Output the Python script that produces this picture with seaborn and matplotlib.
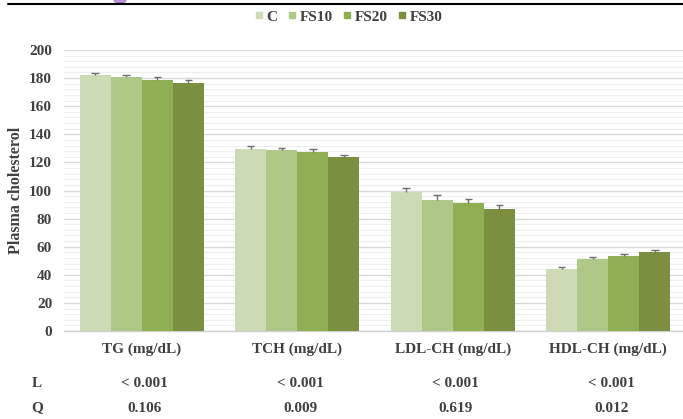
import numpy as np
import pandas as pd
import matplotlib
matplotlib.use("Agg")
import matplotlib.pyplot as plt
from matplotlib.patches import Ellipse
from matplotlib.lines import Line2D
from matplotlib.ticker import MultipleLocator
import seaborn as sns

# Lipid panel: means and SE per diet group
categories = ["TG (mg/dL)", "TCH (mg/dL)", "LDL-CH (mg/dL)", "HDL-CH (mg/dL)"]
groups = ["C", "FS10", "FS20", "FS30"]
values_C = [182.0, 129.5, 99.0, 44.0]
values_FS10 = [180.5, 128.5, 93.0, 51.0]
values_FS20 = [179.0, 127.5, 91.0, 53.5]
values_FS30 = [176.5, 123.5, 87.0, 56.0]
err_C = [1.9, 1.9, 2.8, 1.4]
err_FS10 = [1.9, 1.9, 3.5, 1.4]
err_FS20 = [1.9, 1.9, 2.8, 1.4]
err_FS30 = [1.9, 1.9, 2.8, 1.6]
p_linear = ["< 0.001", "< 0.001", "< 0.001", "< 0.001"]
p_quadratic = ["0.106", "0.009", "0.619", "0.012"]

colors = ["#CCDBB6", "#AFC787", "#90AF55", "#7A8F40"]
text_color = "#404040"
fs = 11

sns.set_theme(style="white")
plt.rcParams["font.family"] = ["Liberation Serif", "DejaVu Serif"]
plt.rcParams["font.weight"] = "bold"

series = [values_C, values_FS10, values_FS20, values_FS30]
errors = [err_C, err_FS10, err_FS20, err_FS30]
df = pd.DataFrame({
    "category": np.repeat([categories], len(groups), axis=0).ravel(),
    "group": np.repeat(groups, len(categories)),
    "value": np.concatenate(series),
})

W, H = 683, 419
fig = plt.figure(figsize=(W / 100, H / 100), dpi=100)
ax = fig.add_axes([64 / W, 1 - 331 / H, (W - 64) / W, (331 - 50) / H])

sns.barplot(data=df, x="category", y="value", hue="group", order=categories,
            hue_order=groups, palette=colors, width=0.8, gap=0, errorbar=None,
            saturation=1, legend=False, linewidth=0, ax=ax, zorder=3)

# one-sided (upper) error bars with a cap
cap_half = 0.024
for cont, err in zip(ax.containers, errors):
    xs = np.array([b.get_x() + b.get_width() / 2 for b in cont])
    hs = np.array([b.get_height() for b in cont])
    tops = hs + np.array(err)
    ax.vlines(xs, hs, tops, color="#6E6E6E", linewidth=1.0, zorder=4)
    ax.hlines(tops, xs - cap_half, xs + cap_half, color="#6E6E6E",
              linewidth=1.0, zorder=4)

ax.set_ylim(0, 200)
ax.set_xlim(-0.5, -0.5 + (W - 64) / 155.5)
ax.yaxis.set_major_locator(MultipleLocator(20))
ax.yaxis.set_minor_locator(MultipleLocator(4))
ax.grid(axis="y", which="major", color="#D9D9D9", linewidth=1.0, zorder=0)
ax.grid(axis="y", which="minor", color="#EEEEEE", linewidth=0.8, zorder=0)
ax.set_axisbelow(True)
for s in ["top", "right", "left"]:
    ax.spines[s].set_visible(False)
ax.spines["bottom"].set_color("#D0D0D0")
ax.spines["bottom"].set_linewidth(1.0)

ax.tick_params(axis="y", which="both", length=0, pad=8.5, labelsize=fs,
               labelcolor=text_color)
ax.tick_params(axis="x", length=0, pad=8, labelsize=fs, labelcolor=text_color)
for t in ax.get_xticklabels() + ax.get_yticklabels():
    t.set_fontweight("bold")
ax.set_xlabel("")
ax.set_ylabel("")
fig.text(16 / W, 1 - 190 / H, "Plasma cholesterol", rotation=90, ha="center",
         va="center", fontsize=11.5, fontweight="bold", color=text_color)

# trend-test p-value rows below the axis
trans = matplotlib.transforms.blended_transform_factory(ax.transData, fig.transFigure)
fig.text(37 / W, 1 - 383 / H, "L", ha="center", va="center", fontsize=fs,
         fontweight="bold", color=text_color)
fig.text(37 / W, 1 - 408 / H, "Q", ha="center", va="center", fontsize=fs,
         fontweight="bold", color=text_color)
for i, (pl, pq) in enumerate(zip(p_linear, p_quadratic)):
    ax.text(i + 0.02, 1 - 383 / H, pl, transform=trans, ha="center",
            va="center", fontsize=fs, fontweight="bold", color=text_color)
    ax.text(i + 0.02, 1 - 408 / H, pq, transform=trans, ha="center",
            va="center", fontsize=fs, fontweight="bold", color=text_color)

# legend
handles = [Line2D([0], [0], marker="s", linestyle="none", markersize=5,
                  markerfacecolor=c, markeredgecolor=c) for c in colors]
fig.legend(handles, groups, loc="center", bbox_to_anchor=(349 / W, 1 - 17 / H),
           ncol=4, frameon=False, handlelength=0.5, handletextpad=0.25,
           columnspacing=0.7, prop={"family": "Liberation Serif",
                                    "weight": "bold", "size": fs},
           labelcolor=text_color)

# page rule and logo edge at the top
fig.add_artist(Line2D([8 / W, 1], [1 - 4 / H, 1 - 4 / H], color="black",
                      linewidth=1.5, transform=fig.transFigure))
fig.add_artist(Ellipse((120 / W, 1 - 0 / H), 12 / W, 6 / H,
                       color="#9B6FC0", alpha=0.7, transform=fig.transFigure))

fig.savefig("out.png", dpi=100)
